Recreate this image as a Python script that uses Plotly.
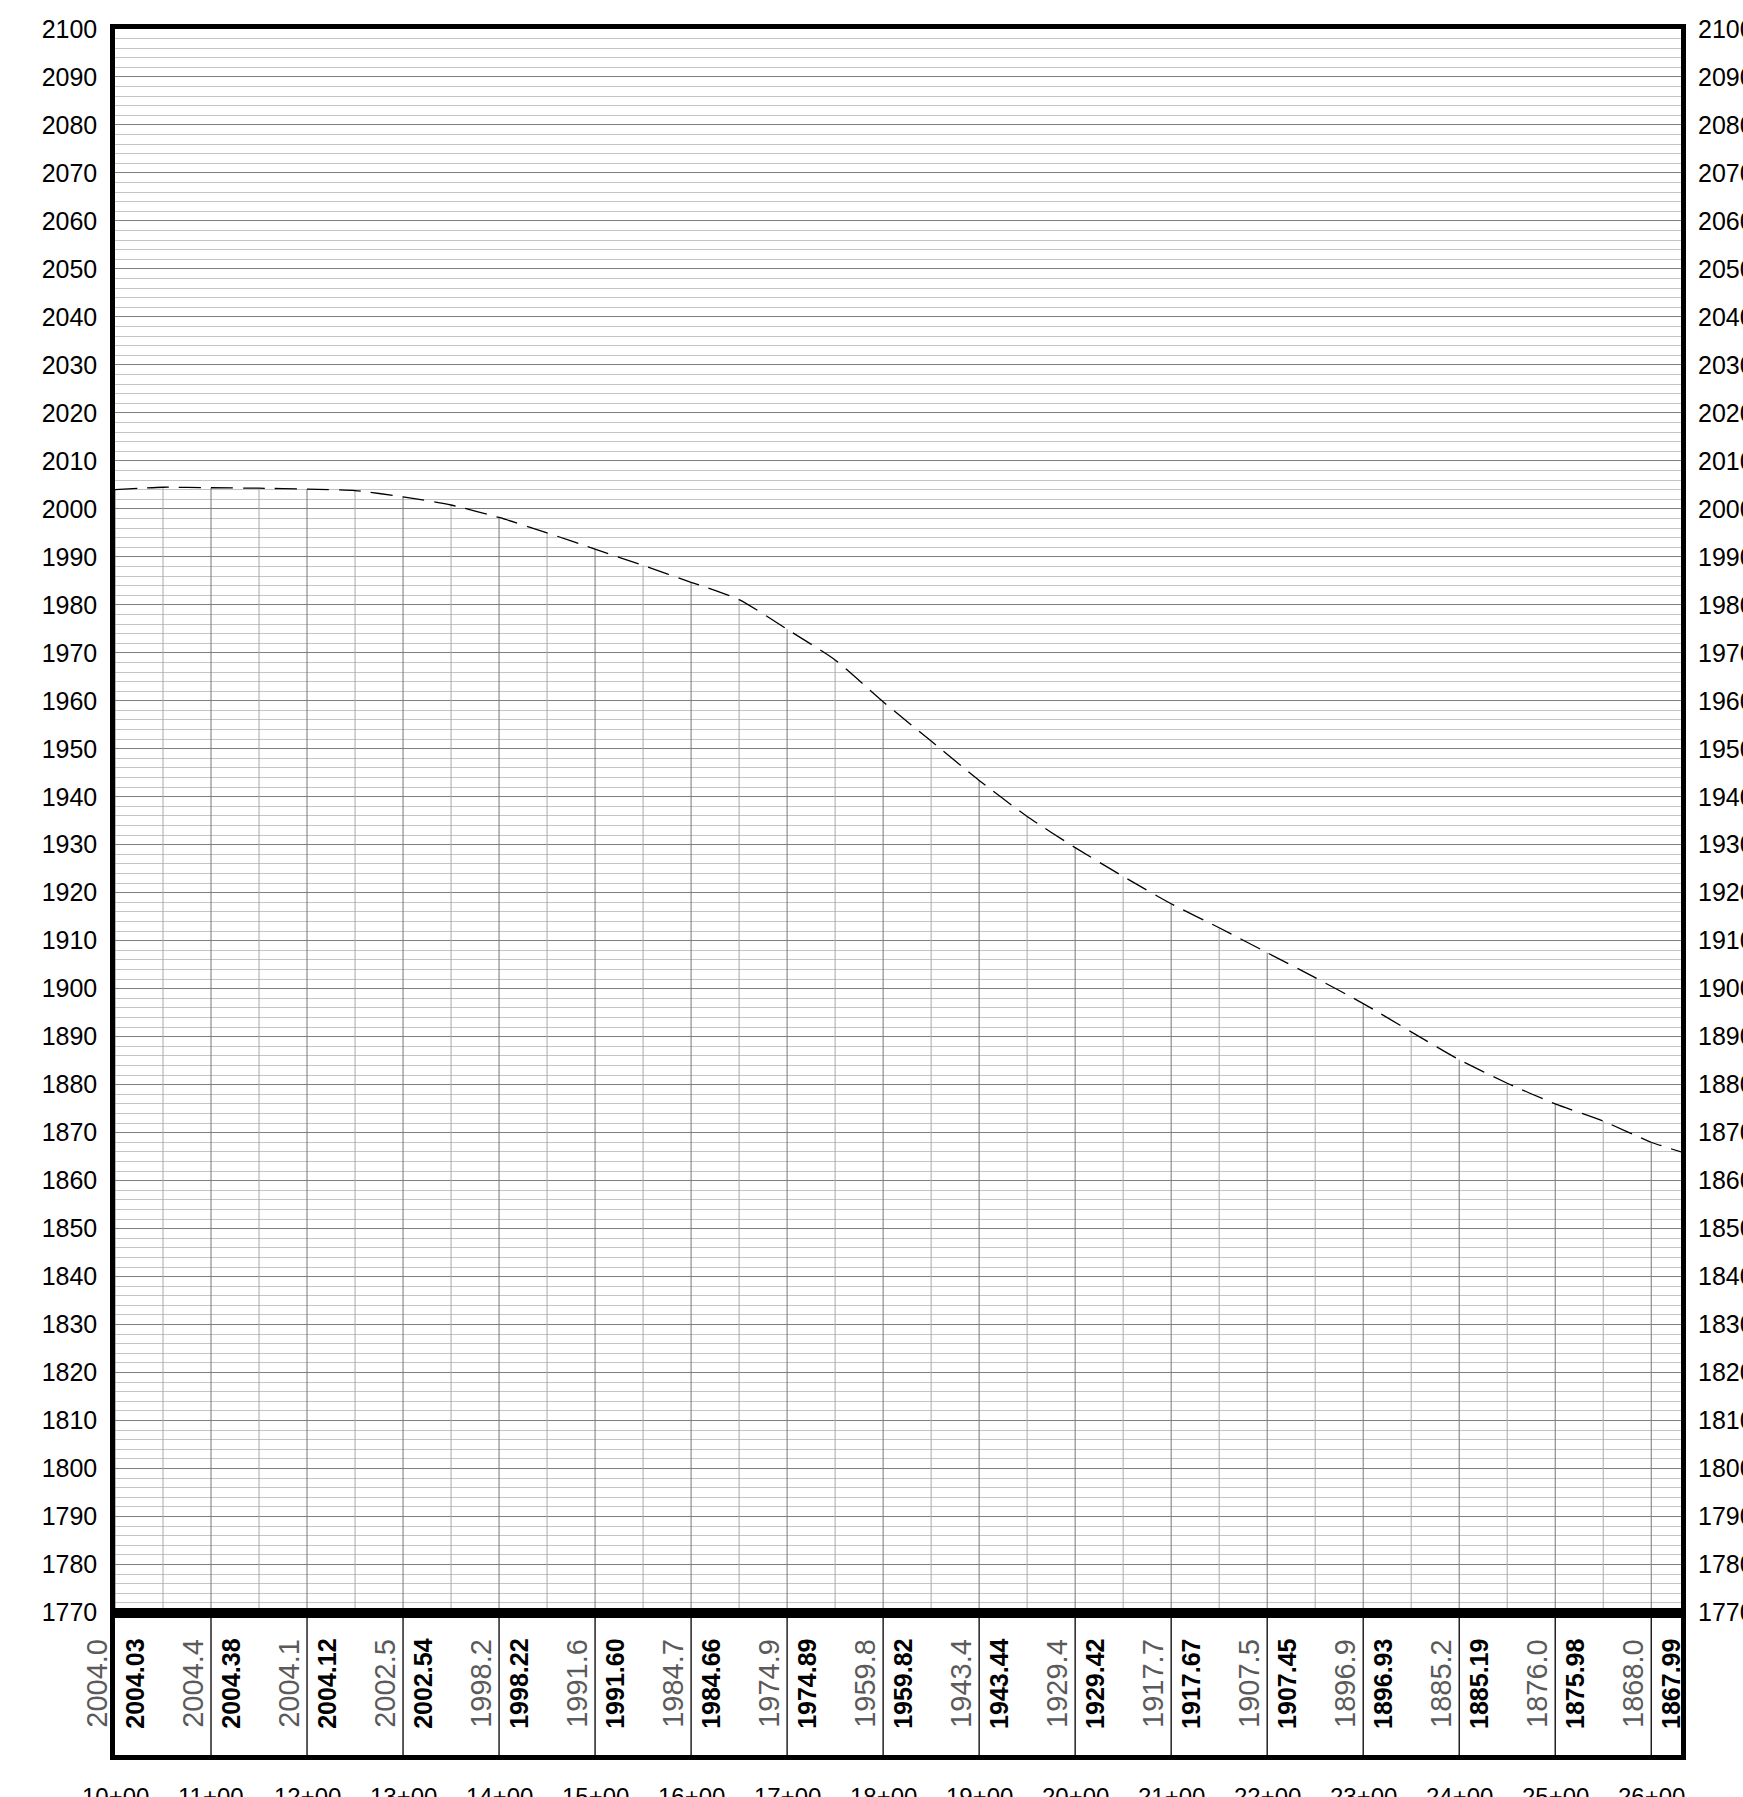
import plotly.graph_objects as go

# stations (ft) with labelled elevations in the table
stations = [1000, 1100, 1200, 1300, 1400, 1500, 1600, 1700, 1800,
            1900, 2000, 2100, 2200, 2300, 2400, 2500, 2600]
ground_elev = ["2004.0", "2004.4", "2004.1", "2002.5", "1998.2", "1991.6", "1984.7", "1974.9", "1959.8",
               "1943.4", "1929.4", "1917.7", "1907.5", "1896.9", "1885.2", "1876.0", "1868.0"]
design_elev = ["2004.03", "2004.38", "2004.12", "2002.54", "1998.22", "1991.60", "1984.66", "1974.89", "1959.82",
               "1943.44", "1929.42", "1917.67", "1907.45", "1896.93", "1885.19", "1875.98", "1867.99"]
station_labels = ["10+00", "11+00", "12+00", "13+00", "14+00", "15+00", "16+00", "17+00", "18+00",
                  "19+00", "20+00", "21+00", "22+00", "23+00", "24+00", "25+00", "26+00"]

# ground profile every 50 ft
profile_sta = [1000, 1050, 1100, 1150, 1200, 1250, 1300, 1350, 1400, 1450, 1500, 1550,
               1600, 1650, 1700, 1750, 1800, 1850, 1900, 1950, 2000, 2050, 2100, 2150,
               2200, 2250, 2300, 2350, 2400, 2450, 2500, 2550, 2600, 2631]
profile_elev = [2004.0, 2004.5, 2004.4, 2004.3, 2004.1, 2003.8, 2002.5, 2000.8, 1998.2, 1995.0, 1991.6, 1988.2,
                1984.7, 1981.1, 1974.9, 1968.5, 1959.8, 1951.6, 1943.4, 1935.9, 1929.4, 1923.4, 1917.7, 1912.7,
                1907.5, 1902.3, 1896.9, 1891.0, 1885.2, 1880.3, 1876.0, 1872.4, 1868.0, 1866.0]

y_min, y_max = 1770, 2100
x_min, x_max = 1000, 2631

W, H = 1743, 1797
M_T, M_B, M_L, M_R = 29, 42, 115, 62
table_frac = 142.5 / (H - M_T - M_B)

fig = go.Figure()

# vertical grid lines, from the bottom of the plot up to the ground line
def verticals(sel):
    xs, ys = [], []
    for s, e in zip(profile_sta, profile_elev):
        if sel(s):
            xs += [s, s, None]
            ys += [y_min, e, None]
    return xs, ys

xh, yh = verticals(lambda s: s % 100 == 50)
fig.add_trace(go.Scatter(x=xh, y=yh, mode="lines", line=dict(color="#a8a8a8", width=1),
                         hoverinfo="skip", showlegend=False))
xf, yf = verticals(lambda s: s % 100 == 0)
fig.add_trace(go.Scatter(x=xf, y=yf, mode="lines", line=dict(color="#777777", width=1),
                         hoverinfo="skip", showlegend=False))

# ground profile
fig.add_trace(go.Scatter(x=profile_sta, y=profile_elev, mode="lines",
                         line=dict(color="black", width=1.3, dash="22px,10px", shape="spline", smoothing=0.6),
                         showlegend=False))

# right-hand elevation axis carrier
fig.add_trace(go.Scatter(x=[x_min], y=[y_min], mode="lines", yaxis="y3", showlegend=False,
                         hoverinfo="skip"))

# table separators at each full station
tx, ty = [], []
for s in stations[1:]:
    tx += [s, s, None]
    ty += [0, 1, None]
fig.add_trace(go.Scatter(x=tx, y=ty, mode="lines", xaxis="x2", yaxis="y2",
                         line=dict(color="black", width=1.3), hoverinfo="skip", showlegend=False))

ann = []
for s, g, d, lab in zip(stations, ground_elev, design_elev, station_labels):
    ann.append(dict(x=s, y=0.5, xref="x2", yref="y2", text=g, textangle=-90, showarrow=False,
                    xshift=-18, font=dict(family="Liberation Sans, Arial", size=29, color="#5a5a5a")))
    ann.append(dict(x=s, y=0.5, xref="x2", yref="y2", text="<b>" + d + "</b>", textangle=-90,
                    showarrow=False, xshift=20,
                    font=dict(family="Liberation Sans, Arial", size=25, color="black")))
    ann.append(dict(x=s, y=-0.0243, xref="x2", yref="paper", text=lab, showarrow=False,
                    yanchor="middle", font=dict(family="Liberation Sans, Arial", size=24, color="black")))

frame = dict(showline=True, linecolor="black", linewidth=4.5, mirror=True)
tickfont = dict(family="Liberation Sans, Arial", size=25, color="black")

fig.update_layout(
    width=W, height=H,
    margin=dict(t=M_T, b=M_B, l=M_L, r=M_R, autoexpand=False),
    paper_bgcolor="white", plot_bgcolor="white",
    showlegend=False,
    annotations=ann,
    xaxis=dict(range=[x_min, x_max], anchor="y", showgrid=False, zeroline=False, automargin=False,
               showticklabels=False, ticks="", **frame),
    xaxis2=dict(range=[x_min, x_max], anchor="y2", matches="x", showgrid=False, zeroline=False,
                automargin=False, showticklabels=False, ticks="", **frame),
    yaxis=dict(range=[y_min, y_max], domain=[table_frac, 1], anchor="x", tick0=y_min, dtick=10,
               showgrid=True, gridcolor="#808080", gridwidth=1, zeroline=False, automargin=False,
               minor=dict(dtick=2, showgrid=True, gridcolor="#c4c4c4", gridwidth=1),
               tickfont=tickfont, ticklabelstandoff=8, ticks="", **frame),
    yaxis3=dict(range=[y_min, y_max], overlaying="y", side="right", anchor="x", matches="y",
                tick0=y_min, dtick=10, showgrid=False, zeroline=False, showline=False, automargin=False,
                tickfont=tickfont, ticklabelstandoff=16, ticks=""),
    yaxis2=dict(range=[0, 1], domain=[0, table_frac], anchor="x2", showgrid=False, zeroline=False,
                automargin=False, showticklabels=False, ticks="", **frame),
)

fig.write_html("out.html", config={"displayModeBar": False},
               post_script="document.body.style.margin='0';")
